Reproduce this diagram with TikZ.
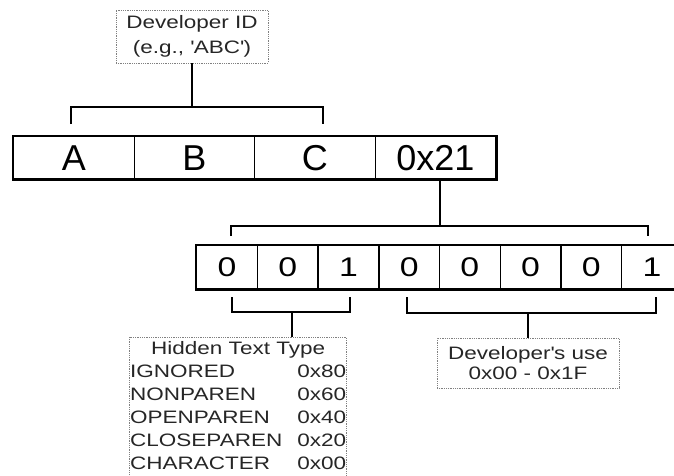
\documentclass[tikz,border=0pt]{standalone}
\usepackage{fontspec}
\setmainfont{Liberation Sans}
\newfontfamily\wideface[FakeStretch=1.25]{Liberation Sans}
\usetikzlibrary{positioning,calc}

\begin{document}
\begin{tikzpicture}[x=1pt, y=-1pt,
    cell/.style={draw, line width=1.4pt, anchor=north west, inner sep=0pt,
                 minimum width=120.5pt, minimum height=42pt,
                 font=\fontsize{36}{36}\selectfont},
    bitcell/.style={draw, line width=1.4pt, anchor=north west, inner sep=0pt,
                    minimum width=60.7pt, minimum height=43pt,
                    font=\wideface\fontsize{27}{27}\selectfont},
    note/.style={draw=gray, densely dotted, line width=0.8pt, align=center,
                 inner sep=1pt, text=black!85},
    frame/.style={line width=2.6pt},
    brk/.style={line width=2pt}
  ]
    \useasboundingbox (0,0) rectangle (674,475);
    % developer id box
    \node[note, minimum width=152pt, minimum height=53pt,
          font=\wideface\fontsize{18}{25}\selectfont] (devid) at (192,36.5)
      {Developer ID\\(e.g., \textquotesingle ABC\textquotesingle)};
    % register bytes
    \node[cell] (r0) at (13,136)    {A};
    \node[cell] (r1) at (133.5,136) {B};
    \node[cell] (r2) at (254,136)   {C};
    \node[cell] (r3) at (374.5,136) {0x21};
    \draw[frame] (r0.north west) rectangle (r3.south east);
    % bits of 0x21
    \node[bitcell] (b0) at (196,245)   {0};
    \node[bitcell] (b1) at (256.7,245) {0};
    \node[bitcell] (b2) at (317.4,245) {1};
    \node[bitcell] (b3) at (378.1,245) {0};
    \node[bitcell] (b4) at (438.8,245) {0};
    \node[bitcell] (b5) at (499.5,245) {0};
    \node[bitcell] (b6) at (560.2,245) {0};
    \node[bitcell] (b7) at (620.9,245) {1};
    \draw[frame] (b0.north west) rectangle (b7.south east);
    % lower notes
    \node[note, anchor=north east, inner sep=0.5pt,
          font=\wideface\fontsize{18}{23}\selectfont] (htype) at (347,337)
      {\begin{tabular}{@{}l@{\hspace{15pt}}r@{}}
         \multicolumn{2}{@{}c@{}}{Hidden Text Type}\\
         IGNORED    & 0x80\\
         NONPAREN   & 0x60\\
         OPENPAREN  & 0x40\\
         CLOSEPAREN & 0x20\\
         CHARACTER  & 0x00
       \end{tabular}};
    \node[note, minimum width=182pt, minimum height=50pt,
          font=\wideface\fontsize{18}{20}\selectfont] (devuse) at (528,363)
      {Developer\textquotesingle s use\\0x00 - 0x1F};
    % brackets
    \coordinate (tbJ) at (192,107);
    \coordinate (tbL) at (71,124);
    \coordinate (tbR) at (323,124);
    \draw[brk] (devid.south) -- (tbJ);
    \draw[brk] (tbL) |- (tbJ) -| (tbR);
    \coordinate (bbJ) at (440,226);
    \coordinate (bbL) at (231,236);
    \coordinate (bbR) at (648,236);
    \draw[brk] (r3.south -| bbJ) -- (bbJ);
    \draw[brk] (bbL) |- (bbJ) -| (bbR);
    \coordinate (lbJ) at (292,312);
    \coordinate (lbL) at (232,297);
    \coordinate (lbR) at (350,297);
    \draw[brk] (lbL) |- (lbJ) -| (lbR);
    \draw[brk] (lbJ) -- (lbJ |- htype.north);
    \coordinate (ubJ) at (528,313);
    \coordinate (ubL) at (407,297);
    \coordinate (ubR) at (656,297);
    \draw[brk] (ubL) |- (ubJ) -| (ubR);
    \draw[brk] (ubJ) -- (devuse.north);
  \end{tikzpicture}
\end{document}
